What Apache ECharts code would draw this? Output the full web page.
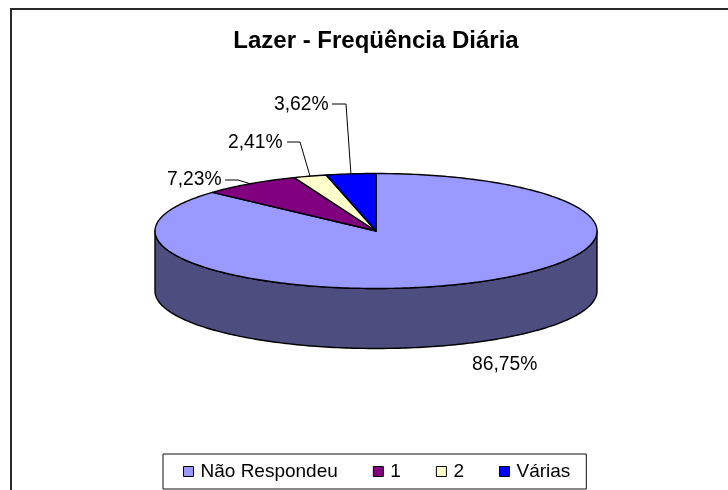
<!DOCTYPE html>
<html>
<head>
<meta charset="utf-8">
<style>html,body{margin:0;padding:0;background:#fff}#c{width:728px;height:490px}</style>
<script src="https://cdn.jsdelivr.net/npm/echarts@6/dist/echarts.min.js"></script>
</head>
<body>
<div id="c"></div>
<script>
var titleText = 'Lazer - Freqüência Diária';
var categories = ['Não Respondeu', '1', '2', 'Várias'];
var values = [86.75, 7.23, 2.41, 3.62];
var colors = ['#9999FF', '#800080', '#FFFFCC', '#0000FF'];
var wallColors = ['#4D4D80', '#400040', '#808066', '#000080'];

var FONT = '"Liberation Sans", Arial, sans-serif';
var pie = { cx: 376, cy: 231, rx: 221, ry: 57.5, depth: 60 };
// label text anchor (left, middle) and leader-line elbow for each slice
var labelLayout = [
  { x: 472, y: 365, elbow: null },
  { x: 167, y: 180, elbow: [238, 180], from: [225, 180] },
  { x: 228, y: 143, elbow: [300, 142], from: [287, 142] },
  { x: 274, y: 105, elbow: [346, 104], from: [332, 104] }
];

var total = values.reduce(function (a, b) { return a + b; }, 0);
function rim(deg, dy) {
  var t = deg * Math.PI / 180;
  return [pie.cx + pie.rx * Math.sin(t), pie.cy - pie.ry * Math.cos(t) + (dy || 0)];
}
function arc(a, b, dy) {
  var pts = [], n = Math.max(2, Math.ceil(Math.abs(b - a)));
  for (var i = 0; i <= n; i++) pts.push(rim(a + (b - a) * i / n, dy));
  return pts;
}
function pct(v) { return v.toFixed(2).replace('.', ',') + '%'; }

function makeRender(idx) {
  return function (params, api) {
    var v = api.value(0), before = 0;
    for (var i = 0; i < idx; i++) before += values[i];
    var a = before / total * 360, b = (before + v) / total * 360;
    var style = { fill: colors[idx], stroke: '#000', lineWidth: 1.4, lineJoin: 'round' };
    var kids = [];
    // side wall: only the front half of the disc is visible
    var wa = Math.max(a, 90), wb = Math.min(b, 270);
    if (wb > wa) {
      var wall = arc(wa, wb, 0).concat(arc(wb, wa, pie.depth));
      kids.push({ type: 'polygon', shape: { points: wall },
        style: { fill: wallColors[idx], stroke: '#000', lineWidth: 1.4, lineJoin: 'round' } });
    }
    // top face
    kids.push({ type: 'polygon', shape: { points: [[pie.cx, pie.cy]].concat(arc(a, b, 0)) }, style: style });
    // leader line + label
    var L = labelLayout[idx];
    if (L.elbow) {
      var mid = rim((a + b) / 2, 0);
      kids.push({ type: 'polyline', shape: { points: [L.from, L.elbow, mid] },
        style: { fill: null, stroke: '#000', lineWidth: 1 } });
    }
    kids.push({ type: 'text', x: L.x, y: L.y, style: {
      text: pct(v), fill: '#000', font: '19.3px ' + FONT, textAlign: 'left', textVerticalAlign: 'middle' } });
    return { type: 'group', children: kids };
  };
}

var series = categories.map(function (name, i) {
  return {
    type: 'custom', name: name, coordinateSystem: 'none', silent: true,
    z: i === 0 ? 2 : 3,
    itemStyle: { color: colors[i] },
    data: [[values[i]]],
    renderItem: makeRender(i)
  };
});

var chart = echarts.init(document.getElementById('c'), null, { renderer: 'canvas' });
chart.setOption({
  animation: false,
  backgroundColor: '#fff',
  color: colors,
  title: {
    text: titleText, left: 371, top: 24, textAlign: 'center',
    textStyle: { fontFamily: FONT, fontWeight: 'bold', fontSize: 24, color: '#000' }
  },
  legend: {
    left: 163, top: 454, orient: 'horizontal', selectedMode: false,
    padding: [8, 16, 8, 20],
    itemWidth: 10, itemHeight: 10, itemGap: 35,
    borderColor: '#111', borderWidth: 1, backgroundColor: '#fff',
    icon: 'rect',
    itemStyle: { borderColor: '#000', borderWidth: 1 },
    textStyle: { fontFamily: FONT, fontSize: 19, color: '#000', padding: [0, 0, 0, 2] },
    data: categories
  },
  graphic: [{
    type: 'polyline', silent: true,
    shape: { points: [[11, 490], [11, 9], [728, 9]] },
    style: { fill: null, stroke: '#2a2a2a', lineWidth: 2 }
  }],
  series: series
});
</script>
</body>
</html>
